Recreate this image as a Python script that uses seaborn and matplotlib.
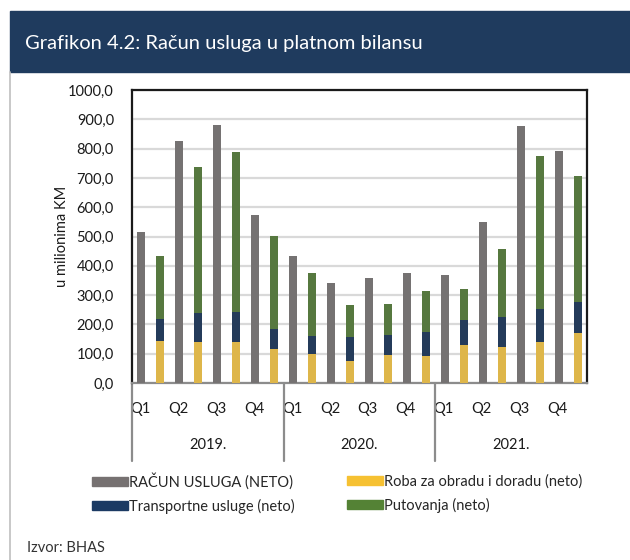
import matplotlib
matplotlib.use("Agg")
import matplotlib.pyplot as plt
from matplotlib.patches import Patch, Rectangle
from matplotlib.lines import Line2D
import matplotlib.transforms as mtransforms
import numpy as np
import pandas as pd
import seaborn as sns

# ---- data (millions KM) ----
years = ["2019.", "2020.", "2021."]
quarters = ["Q1", "Q2", "Q3", "Q4"]
racun_usluga = [515, 827, 880, 575, 434, 341, 358, 377, 370, 548, 878, 792]
roba = [145, 139, 139, 116, 98, 76, 97, 91, 128, 123, 139, 172]
transport = [73, 100, 104, 69, 61, 82, 68, 84, 86, 103, 114, 105]
putovanja = [217, 497, 545, 318, 215, 108, 104, 139, 106, 231, 522, 430]

labels = {
    "total": "RAČUN USLUGA (NETO)",
    "roba": "Roba za obradu i doradu (neto)",
    "transport": "Transportne usluge (neto)",
    "putovanja": "Putovanja (neto)",
}
colors = {
    "total": "#767171",
    "roba": "#F6C132",
    "transport": "#1B3A63",
    "putovanja": "#548235",
}

sns.set_theme(style="white")
plt.rcParams["font.family"] = ["Lato", "DejaVu Sans"]

periods = [f"{y} {q}" for y in years for q in quarters]
roba_a = np.array(roba)
trans_top = roba_a + np.array(transport)
put_top = trans_top + np.array(putovanja)

W, H = 630, 560
fig = plt.figure(figsize=(W / 100, H / 100), dpi=100)

# header bar and page border
fig.patches.append(Rectangle((10 / W, 1 - 72 / H), 1, 61 / H, transform=fig.transFigure,
                             color="#1F3B5E", zorder=0))
fig.lines.append(Line2D([10 / W, 10 / W], [0, 1 - 72 / H], transform=fig.transFigure,
                        color="#BFBFBF", lw=1.2))
fig.text(25 / W, 1 - 43 / H, "Grafikon 4.2: Račun usluga u platnom bilansu",
         color="white", fontsize=14.5, va="center", ha="left")

ax = fig.add_axes([132 / W, 1 - 383 / H, 455 / W, 293 / H])

# layered bars: grey total beside a stack drawn back to front
layers = [
    (racun_usluga, put_top, "putovanja"),
    ([0] * 12, trans_top, "transport"),
    ([0] * 12, roba_a, "roba"),
]
for grey_vals, stack_vals, key in layers:
    df = pd.DataFrame({
        "period": periods * 2,
        "value": list(grey_vals) + list(stack_vals),
        "series": ["total"] * 12 + ["stack"] * 12,
    })
    sns.barplot(data=df, x="period", y="value", hue="series", order=periods,
                hue_order=["total", "stack"], dodge=True, width=1.0, gap=0.58,
                palette={"total": colors["total"], "stack": colors[key]},
                linewidth=0, legend=False, ax=ax, zorder=3)

ax.set_xlim(-0.5, 11.5)
ax.set_ylim(0, 1000)
yt = np.arange(0, 1001, 100)
ax.set_yticks(yt)
ax.set_yticklabels([f"{v:.1f}".replace(".", ",") for v in yt], fontsize=10.5, color="#1a1a1a")
ax.tick_params(axis="y", length=0, pad=13)
ax.yaxis.grid(True, color="#D9D9D9", lw=1.6)
ax.set_axisbelow(True)

ax.set_xticks(np.arange(12) - 0.28)
ax.set_xticklabels(quarters * 3, fontsize=10.5, color="#1a1a1a")
ax.tick_params(axis="x", length=0, pad=13.5)
ax.set_xlabel("")
ax.set_ylabel("u milionima KM", fontsize=10.5, color="#1a1a1a")
ax.yaxis.set_label_coords(-0.138, 0.5)

for side in ["top", "right", "left"]:
    ax.spines[side].set_color("#1a1a1a")
    ax.spines[side].set_linewidth(1.6)
ax.spines["bottom"].set_color("#8C8C8C")
ax.spines["bottom"].set_linewidth(1.6)

# year grouping below the quarter labels
trans = mtransforms.blended_transform_factory(ax.transData, ax.transAxes)
for xs in [-0.5, 3.5, 7.5]:
    ax.plot([xs, xs], [0, -0.265], transform=trans, color="#8C8C8C", lw=1.6, clip_on=False)
for i, y in enumerate(years):
    ax.text(1.5 + 4 * i, -0.212, y, transform=trans, ha="center", va="center",
            fontsize=10.5, color="#1a1a1a")

# two legend columns, each anchored at its own left edge
leg_kw = dict(loc="center left", frameon=False, fontsize=10.5, handlelength=2.47,
              handleheight=0.55, handletextpad=0.08, labelspacing=0.6,
              borderpad=0, borderaxespad=0)
col1 = [Patch(color=colors[k], label=labels[k]) for k in ["total", "transport"]]
col2 = [Patch(color=colors[k], label=labels[k]) for k in ["roba", "putovanja"]]
leg1 = fig.legend(handles=col1, bbox_to_anchor=(92 / W, 1 - 493.5 / H), **leg_kw)
fig.legend(handles=col2, bbox_to_anchor=(347 / W, 1 - 493.5 / H), **leg_kw)

fig.text(27 / W, 1 - 548 / H, "Izvor: BHAS", fontsize=10.5, color="#333333", va="center")

fig.savefig("out.png", dpi=100)
